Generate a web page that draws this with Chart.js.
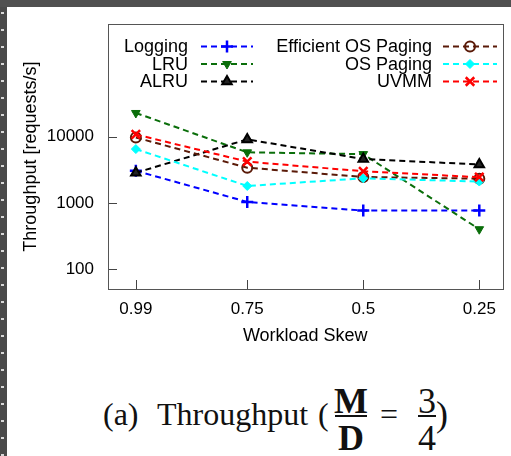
<!DOCTYPE html>
<html>
<head>
<meta charset="utf-8">
<script src="https://cdn.jsdelivr.net/npm/chart.js@4/dist/chart.umd.min.js"></script>
<style>
  html, body { margin: 0; padding: 0; background: #fff; }
  #wrap { position: relative; width: 511px; height: 456px; overflow: hidden; background: #fff; }
  #chart { position: absolute; left: 0; top: 0; }
  #bandTop { position: absolute; left: 0; top: 0; width: 511px; height: 7px; background: #505050; }
  #bandLeft { position: absolute; left: 0; top: 0; width: 7px; height: 456px; background: #4a4a4a; }
  #dots { position: absolute; left: 1px; top: 0; width: 3px; height: 456px;
    background: repeating-linear-gradient(to bottom, transparent 0, transparent 12px, #d8d8d8 12px, #d8d8d8 14px, transparent 14px, transparent 17px); }
  .cap { position: absolute; font-family: "Liberation Serif", "DejaVu Serif", serif; color: #111;
    line-height: 1; white-space: nowrap; }
  .t { font-size: 32px; }
  .f { font-size: 36px; width: 40px; text-align: center; }
  .bar { position: absolute; height: 1.5px; background: #111; }
</style>
</head>
<body>
<div id="wrap">
  <canvas id="chart" width="511" height="360"></canvas>
  <div id="bandLeft"><div id="dots"></div></div>
  <div id="bandTop"></div>
  <span class="cap t" style="left:103px; top:398px;">(a)</span>
  <span class="cap t" style="left:157px; top:398px;">Throughput</span>
  <span class="cap t" style="left:318px; top:398px;">(</span>
  <span class="cap f" style="left:331px; top:383px;"><b>M</b></span>
  <div class="bar" style="left:335px; top:415px; width:32px;"></div>
  <span class="cap f" style="left:331px; top:420px;"><b>D</b></span>
  <span class="cap t" style="left:380px; top:398px;">=</span>
  <span class="cap f" style="left:407px; top:383px;">3</span>
  <div class="bar" style="left:418px; top:415px; width:18px;"></div>
  <span class="cap f" style="left:407px; top:420px;">4</span>
  <span class="cap f" style="left:436px; top:396px; width:auto;">)</span>
</div>
<script>
// workload skew values on the x axis
const skews = [0.99, 0.75, 0.5, 0.25];
const yTicks = [100, 1000, 10000];

// throughput per series (requests/s)
const logging = [3050, 1035, 765, 765];
const lru = [22800, 5800, 5450, 400];
const alru = [2850, 9100, 4600, 3800];
const efficientPaging = [9700, 3400, 2460, 2320];
const osPaging = [6500, 1800, 2350, 2100];
const uvmm = [10800, 4200, 3000, 2440];

const seriesNames = ['Logging', 'LRU', 'ALRU', 'Efficient OS Paging', 'OS Paging', 'UVMM'];
const seriesValues = [logging, lru, alru, efficientPaging, osPaging, uvmm];

const styles = [
  { color: '#0000ff', point: 'cross', radius: 6, rotation: 0, fill: '#0000ff', bw: 2.5 },
  { color: '#0a6e0a', point: 'triangle', radius: 5, rotation: 180, fill: '#0a6e0a', bw: 1 },
  { color: '#000000', point: 'triangle', radius: 5.5, rotation: 0, fill: '#222', bw: 2 },
  { color: '#5a1a08', point: 'circle', radius: 5, rotation: 0, fill: 'rgba(255,255,255,0)', bw: 2 },
  { color: '#00ffff', point: 'rectRot', radius: 4.5, rotation: 0, fill: '#00ffff', bw: 1 },
  { color: '#ff0000', point: 'crossRot', radius: 6, rotation: 0, fill: '#ff0000', bw: 2.5 }
];

const FONT = '"Liberation Sans", Arial, sans-serif';

const datasets = seriesNames.map((name, i) => ({
  label: name,
  data: skews.map((s, j) => ({ x: s, y: seriesValues[i][j] })),
  borderColor: styles[i].color,
  backgroundColor: styles[i].fill,
  borderWidth: 2,
  borderDash: [6, 4],
  pointStyle: styles[i].point,
  pointRadius: styles[i].radius,
  pointRotation: styles[i].rotation,
  pointBorderColor: styles[i].color,
  pointBackgroundColor: styles[i].fill,
  pointBorderWidth: styles[i].bw,
  order: seriesNames.length - i
}));

// frame + inward tick marks, gnuplot style
const framePlugin = {
  id: 'frame',
  afterDatasetsDraw(chart) {
    const { ctx, chartArea: a, scales } = chart;
    ctx.save();
    ctx.strokeStyle = '#444';
    ctx.lineWidth = 1;
    ctx.beginPath();
    scales.y.ticks.forEach(t => {
      const py = Math.round(scales.y.getPixelForValue(t.value)) + 0.5;
      ctx.moveTo(a.left, py); ctx.lineTo(a.left + 9, py);
    });
    scales.x.ticks.forEach(t => {
      const px = Math.round(scales.x.getPixelForValue(t.value)) + 0.5;
      ctx.moveTo(px, a.bottom); ctx.lineTo(px, a.bottom - 9);
    });
    ctx.stroke();
    ctx.strokeStyle = '#555';
    ctx.strokeRect(Math.round(a.left) + 0.5, Math.round(a.top) + 0.5, Math.round(a.right - a.left), Math.round(a.bottom - a.top));
    ctx.restore();
  }
};

// two-column key inside the plot
const keyPlugin = {
  id: 'key',
  afterDraw(chart) {
    const ctx = chart.ctx;
    const rows = [46.5, 64, 81.5];
    const cols = [{ textRight: 188, x0: 201, x1: 253 }, { textRight: 432, x0: 443, x1: 497 }];
    ctx.save();
    ctx.font = '18px ' + FONT;
    ctx.textAlign = 'right';
    ctx.textBaseline = 'middle';
    chart.data.datasets.forEach((ds, i) => {
      const c = cols[Math.floor(i / 3)];
      const y = rows[i % 3];
      ctx.fillStyle = '#000';
      ctx.fillText(ds.label, c.textRight, y + 1);
      ctx.strokeStyle = ds.borderColor;
      ctx.lineWidth = 2;
      ctx.setLineDash([6, 4]);
      ctx.beginPath();
      ctx.moveTo(c.x0, y); ctx.lineTo(c.x1, y);
      ctx.stroke();
      ctx.setLineDash([]);
      ctx.fillStyle = ds.pointBackgroundColor;
      ctx.lineWidth = ds.pointBorderWidth;
      Chart.helpers.drawPoint(ctx, {
        pointStyle: ds.pointStyle, radius: ds.pointRadius,
        rotation: ds.pointRotation, borderWidth: ds.pointBorderWidth
      }, (c.x0 + c.x1) / 2, y);
    });
    ctx.restore();
  }
};

new Chart(document.getElementById('chart').getContext('2d'), {
  type: 'line',
  data: { datasets: datasets },
  options: {
    responsive: false,
    animation: false,
    devicePixelRatio: 1,
    layout: { padding: { top: 22, right: 8, left: 0, bottom: 0 } },
    plugins: { legend: { display: false }, tooltip: { enabled: false } },
    scales: {
      x: {
        type: 'linear',
        reverse: true,
        min: 0.2,
        max: 1.05,
        afterBuildTicks: s => { s.ticks = skews.map(v => ({ value: v })); },
        afterFit: s => { s.height = 71; },
        grid: { display: false, drawTicks: false },
        border: { display: false },
        ticks: { padding: 10, color: '#000', font: { family: FONT, size: 17 }, callback: v => String(v), maxRotation: 0 },
        title: { display: true, text: 'Workload Skew', color: '#000', font: { family: FONT, size: 18 }, padding: { top: 0, bottom: 13 } }
      },
      y: {
        type: 'logarithmic',
        min: 50,
        max: 500000,
        afterBuildTicks: s => { s.ticks = yTicks.map(v => ({ value: v })); },
        afterFit: s => { s.width = 108; },
        grid: { display: false, drawTicks: false },
        border: { display: false },
        ticks: { padding: 14, color: '#000', font: { family: FONT, size: 17 }, callback: v => String(v) },
        title: { display: true, text: 'Throughput [requests/s]', color: '#000', font: { family: FONT, size: 18 }, padding: { top: 20, bottom: 0 } }
      }
    }
  },
  plugins: [framePlugin, keyPlugin]
});
</script>
</body>
</html>
